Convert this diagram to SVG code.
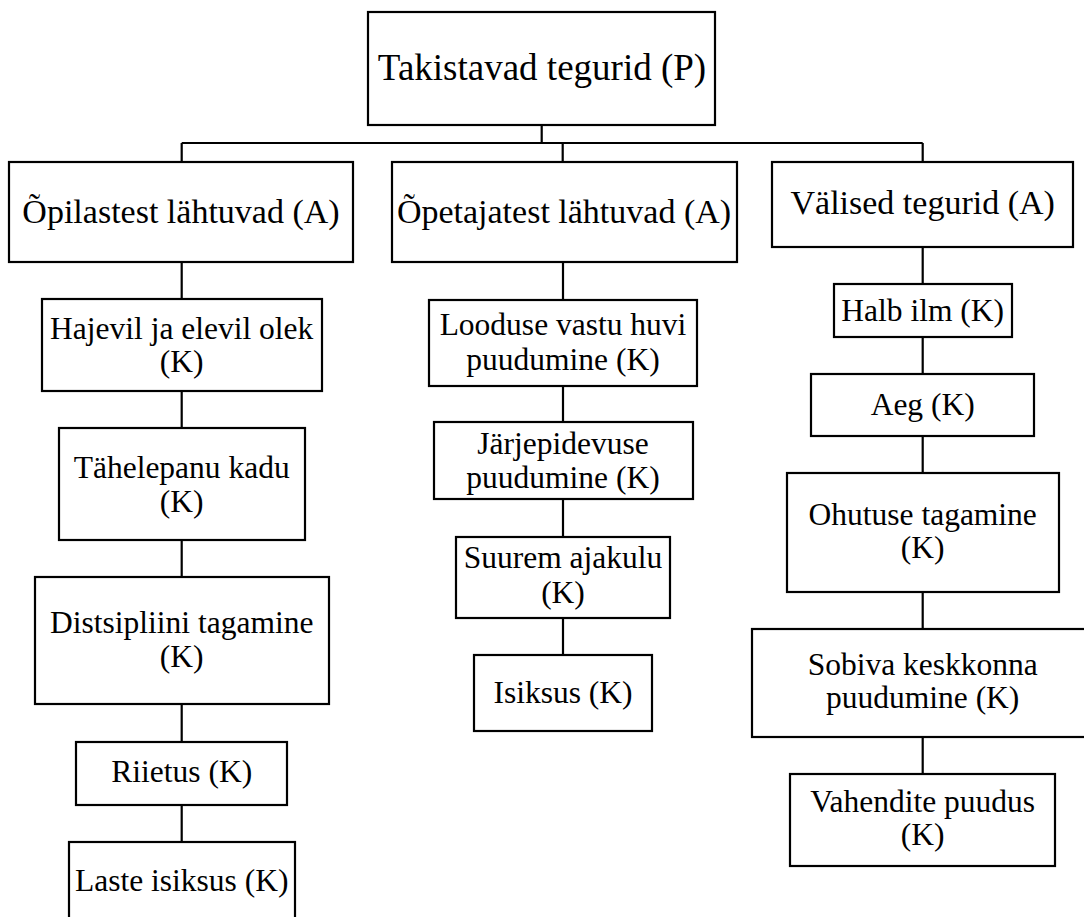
<svg xmlns="http://www.w3.org/2000/svg" width="1084" height="917" viewBox="0 0 1084 917">
  <style>
    .box { fill: #ffffff; stroke: #000000; stroke-width: 2.2; }
    .link { fill: none; stroke: #000000; stroke-width: 2.2; }
    .t { font-family: 'Times New Roman', 'Liberation Serif', 'DejaVu Serif', serif; fill: #000000; text-anchor: middle; }
    .p { font-size: 37px; }
    .a { font-size: 34px; }
    .k { font-size: 31.5px; }
  </style>
  <rect width="1084" height="917" fill="#ffffff"/>

  <!-- connectors of the tree -->
  <g id="connectors">
    <path class="link" d="M541.7 125 V143 M181.7 143 H922.7 M181.7 143 V162 M562.7 143 V162 M922.7 143 V162"/>
    <path class="link" d="M181.7 262 V299 M181.7 391 V428 M181.7 540 V577 M181.7 704 V742 M181.7 805 V842"/>
    <path class="link" d="M563 262 V300 M563 386 V422 M563 499 V537 M563 618 V655"/>
    <path class="link" d="M922.7 247 V284 M922.7 337 V374 M922.7 436 V473 M922.7 592 V629 M922.7 737 V774"/>
  </g>

  <!-- top level -->
  <g id="root">
    <rect class="box" x="368" y="12" width="347" height="113"/>
    <text class="t p" x="542" y="80">Takistavad tegurid (P)</text>
  </g>

  <!-- second level -->
  <g id="opilased">
    <rect class="box" x="9" y="162" width="344" height="100"/>
    <text class="t a" x="181" y="223">Õpilastest lähtuvad (A)</text>
  </g>
  <g id="opetajad">
    <rect class="box" x="392" y="162" width="345" height="100"/>
    <text class="t a" x="564" y="223">Õpetajatest lähtuvad (A)</text>
  </g>
  <g id="valised">
    <rect class="box" x="772" y="162" width="301" height="85"/>
    <text class="t a" x="922.7" y="214">Välised tegurid (A)</text>
  </g>

  <!-- column 1 -->
  <g id="hajevil">
    <rect class="box" x="42" y="299" width="280" height="92"/>
    <text class="t k" x="181.7" y="339">Hajevil ja elevil olek</text>
    <text class="t k" x="181.7" y="372">(K)</text>
  </g>
  <g id="tahelepanu">
    <rect class="box" x="59" y="428" width="246" height="112"/>
    <text class="t k" x="181.7" y="478">Tähelepanu kadu</text>
    <text class="t k" x="181.7" y="512">(K)</text>
  </g>
  <g id="distsipliin">
    <rect class="box" x="35" y="577" width="294" height="127"/>
    <text class="t k" x="181.7" y="633">Distsipliini tagamine</text>
    <text class="t k" x="181.7" y="667">(K)</text>
  </g>
  <g id="riietus">
    <rect class="box" x="76" y="742" width="211" height="63"/>
    <text class="t k" x="181.7" y="782">Riietus (K)</text>
  </g>
  <g id="laste-isiksus">
    <rect class="box" x="69" y="842" width="226" height="100"/>
    <text class="t k" x="181.7" y="891">Laste isiksus (K)</text>
  </g>

  <!-- column 2 -->
  <g id="looduse-huvi">
    <rect class="box" x="429" y="300" width="268" height="86"/>
    <text class="t k" x="563" y="335">Looduse vastu huvi</text>
    <text class="t k" x="563" y="370">puudumine (K)</text>
  </g>
  <g id="jarjepidevus">
    <rect class="box" x="434" y="422" width="259" height="77"/>
    <text class="t k" x="563" y="454">Järjepidevuse</text>
    <text class="t k" x="563" y="488">puudumine (K)</text>
  </g>
  <g id="ajakulu">
    <rect class="box" x="456" y="537" width="214" height="81"/>
    <text class="t k" x="563" y="568">Suurem ajakulu</text>
    <text class="t k" x="563" y="603">(K)</text>
  </g>
  <g id="isiksus">
    <rect class="box" x="474" y="655" width="178" height="76"/>
    <text class="t k" x="563" y="703">Isiksus (K)</text>
  </g>

  <!-- column 3 -->
  <g id="halb-ilm">
    <rect class="box" x="834" y="284" width="178" height="53"/>
    <text class="t k" x="922.7" y="321">Halb ilm (K)</text>
  </g>
  <g id="aeg">
    <rect class="box" x="811" y="374" width="223" height="62"/>
    <text class="t k" x="922.7" y="415">Aeg (K)</text>
  </g>
  <g id="ohutus">
    <rect class="box" x="787" y="473" width="272" height="119"/>
    <text class="t k" x="922.7" y="525">Ohutuse tagamine</text>
    <text class="t k" x="922.7" y="558">(K)</text>
  </g>
  <g id="keskkond">
    <rect class="box" x="752" y="629" width="345" height="108"/>
    <text class="t k" x="922.7" y="675">Sobiva keskkonna</text>
    <text class="t k" x="922.7" y="708">puudumine (K)</text>
  </g>
  <g id="vahendid">
    <rect class="box" x="790" y="774" width="265" height="92"/>
    <text class="t k" x="922.7" y="812">Vahendite puudus</text>
    <text class="t k" x="922.7" y="845">(K)</text>
  </g>
</svg>
